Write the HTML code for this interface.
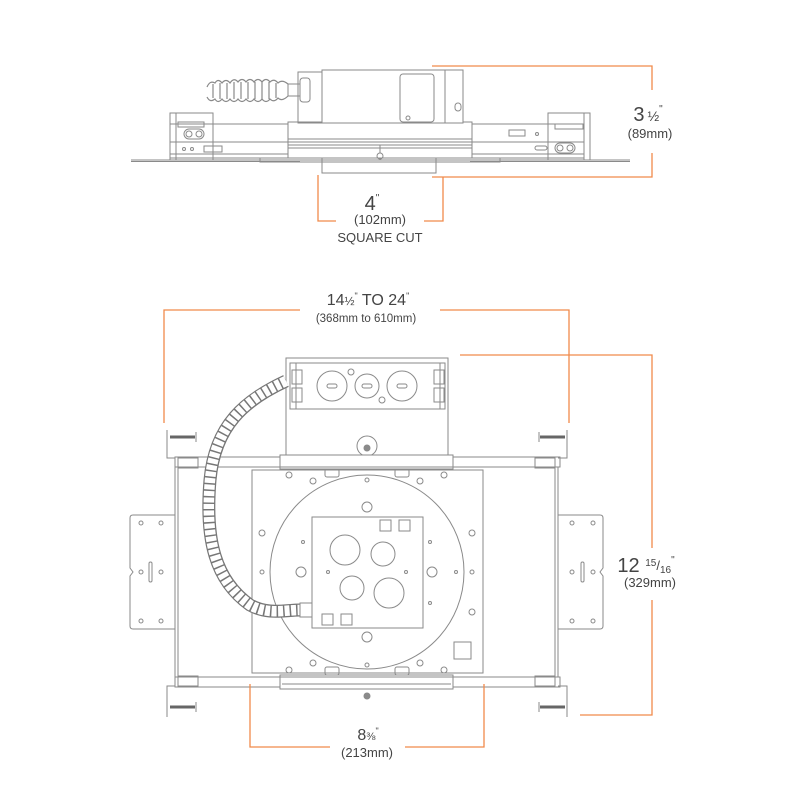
<!DOCTYPE html>
<html><head><meta charset="utf-8"><style>
html,body{margin:0;padding:0;background:#fff;}
svg{display:block;}
text{font-family:"Liberation Sans",sans-serif;fill:#444;}
</style></head><body>
<svg width="800" height="800" viewBox="0 0 800 800" xmlns="http://www.w3.org/2000/svg">
<g fill="none" stroke="#8a8a8a" stroke-width="1">
<line x1="131" y1="160" x2="630" y2="160"/>
<line x1="131" y1="161.5" x2="300" y2="161.5"/>
<line x1="470" y1="161.5" x2="630" y2="161.5"/>
<rect x="170" y="124" width="414" height="34"/>
<line x1="170" y1="142" x2="584" y2="142"/>
<line x1="170" y1="154" x2="584" y2="154"/>
<rect x="288" y="122" width="184" height="36" fill="#fff"/>
<line x1="288" y1="139" x2="472" y2="139"/>
<line x1="288" y1="142" x2="472" y2="142"/>
<line x1="288" y1="145" x2="472" y2="145"/>
<line x1="288" y1="148" x2="472" y2="148"/>
<rect x="260" y="158" width="240" height="4"/>
<rect x="322" y="158" width="114" height="15"/>
<rect x="322" y="70" width="141" height="53" fill="#fff"/>
<rect x="298" y="72" width="24" height="51"/>
<rect x="400" y="74" width="34" height="48" rx="3"/>
<line x1="445" y1="70" x2="445" y2="123"/>
<circle cx="408" cy="118" r="2"/>
<rect x="455" y="103" width="6" height="8" rx="3"/>
<circle cx="380" cy="156" r="3"/>
<line x1="380" y1="145" x2="380" y2="153"/>
<g stroke-width="1.2">
<path d="M207 87 Q210 80 215 83 Q218 78 222 83 Q226 78 230 83 Q234 77 238 82 Q242 77 246 82 Q250 77 254 82 Q258 77 262 82 Q266 77 270 82 Q274 78 278 83 Q282 79 288 84"/>
<path d="M207 97 Q210 103 215 99 Q218 104 222 99 Q226 104 230 99 Q234 104 238 99 Q242 104 246 99 Q250 104 254 99 Q258 104 262 99 Q266 104 270 99 Q274 103 278 98 Q282 102 288 96"/>
<path d="M213 84 L213 98 M220 83 L220 99 M227 83 L227 99 M234 82 L234 99 M241 82 L241 99 M248 82 L248 99 M255 82 L255 99 M262 82 L262 99 M269 82 L269 99 M276 83 L276 98"/>
</g>
<rect x="288" y="84" width="12" height="12"/>
<rect x="300" y="78" width="10" height="24" rx="3"/>
<rect x="170" y="113" width="43" height="47"/>
<line x1="176" y1="113" x2="176" y2="160"/>
<rect x="178" y="122" width="26" height="5"/>
<rect x="184" y="129" width="20" height="10" rx="5"/>
<circle cx="189" cy="134" r="3"/><circle cx="199" cy="134" r="3"/>
<circle cx="184" cy="149" r="1.5"/><circle cx="192" cy="149" r="1.5"/>
<rect x="204" y="146" width="18" height="6"/>
<rect x="548" y="113" width="42" height="47"/>
<line x1="584" y1="113" x2="584" y2="160"/>
<rect x="555" y="124" width="28" height="5"/>
<rect x="555" y="143" width="20" height="10" rx="5"/>
<circle cx="560" cy="148" r="3"/><circle cx="570" cy="148" r="3"/>
<rect x="509" y="130" width="16" height="6"/>
<circle cx="537" cy="134" r="1.5"/>
<rect x="535" y="146" width="12" height="4" rx="2"/>

<rect x="286" y="358" width="162" height="100"/>
<rect x="290" y="363" width="155" height="46"/>
<line x1="296" y1="363" x2="296" y2="409"/>
<line x1="440" y1="363" x2="440" y2="409"/>
<rect x="292" y="370" width="10" height="14"/><rect x="292" y="388" width="10" height="14"/>
<rect x="434" y="370" width="10" height="14"/><rect x="434" y="388" width="10" height="14"/>
<circle cx="332" cy="386" r="15"/><rect x="327" y="384" width="10" height="4" rx="2"/>
<circle cx="367" cy="386" r="12"/><rect x="362" y="384" width="10" height="4" rx="2"/>
<circle cx="402" cy="386" r="15"/><rect x="397" y="384" width="10" height="4" rx="2"/>
<circle cx="351" cy="372" r="3"/><circle cx="382" cy="400" r="3"/>
<circle cx="367" cy="446" r="10"/><circle cx="367" cy="448" r="3" fill="#8a8a8a"/>
<rect x="175" y="457" width="385" height="10"/>
<rect x="280" y="455" width="173" height="14" fill="#fff"/>
<rect x="175" y="677" width="385" height="10"/>
<rect x="280" y="675" width="173" height="14" fill="#fff"/>
<line x1="282" y1="684" x2="451" y2="684"/>
<circle cx="367" cy="696" r="3" fill="#8a8a8a"/>
<rect x="175" y="467" width="383" height="210"/>
<line x1="178" y1="467" x2="178" y2="677"/>
<line x1="555" y1="467" x2="555" y2="677"/>
<rect x="252" y="470" width="231" height="203"/>
<path d="M175 515 L133 515 Q130 515 130 518 L130 568 L133 572 L130 576 L130 626 Q130 629 133 629 L175 629"/>
<path d="M558 515 L600 515 Q603 515 603 518 L603 568 L600 572 L603 576 L603 626 Q603 629 600 629 L558 629"/>
<circle cx="141" cy="523" r="2"/><circle cx="161" cy="523" r="2"/>
<circle cx="141" cy="572" r="2"/><circle cx="161" cy="572" r="2"/>
<circle cx="141" cy="621" r="2"/><circle cx="161" cy="621" r="2"/>
<rect x="149" y="562" width="3" height="20" rx="1.5"/>
<circle cx="572" cy="523" r="2"/><circle cx="593" cy="523" r="2"/>
<circle cx="572" cy="572" r="2"/><circle cx="593" cy="572" r="2"/>
<circle cx="572" cy="621" r="2"/><circle cx="593" cy="621" r="2"/>
<rect x="581" y="562" width="3" height="20" rx="1.5"/>
<path d="M167 430 L167 458 L175 458"/><path d="M567 430 L567 458 L558 458"/>
<path d="M167 717 L167 686 L175 686"/><path d="M567 717 L567 686 L558 686"/>
<g stroke="#666" stroke-width="3"><line x1="170" y1="437" x2="195" y2="437"/><line x1="540" y1="437" x2="565" y2="437"/>
<line x1="170" y1="707" x2="195" y2="707"/><line x1="540" y1="707" x2="565" y2="707"/></g>
<line x1="196" y1="432" x2="196" y2="442"/><line x1="539" y1="432" x2="539" y2="442"/>
<line x1="196" y1="702" x2="196" y2="712"/><line x1="539" y1="702" x2="539" y2="712"/>
<rect x="178" y="458" width="20" height="10"/><rect x="535" y="458" width="20" height="10"/>
<rect x="178" y="676" width="20" height="10"/><rect x="535" y="676" width="20" height="10"/>
<rect x="325" y="469" width="14" height="8" rx="2"/><rect x="395" y="469" width="14" height="8" rx="2"/>
<rect x="325" y="667" width="14" height="8" rx="2"/><rect x="395" y="667" width="14" height="8" rx="2"/>
<circle cx="289" cy="475" r="3"/><circle cx="444" cy="475" r="3"/>
<circle cx="313" cy="481" r="3"/><circle cx="420" cy="481" r="3"/>
<circle cx="289" cy="670" r="3"/><circle cx="444" cy="670" r="3"/>
<circle cx="313" cy="663" r="3"/><circle cx="420" cy="663" r="3"/>
<circle cx="262" cy="533" r="3"/><circle cx="472" cy="533" r="3"/>
<circle cx="262" cy="572" r="2"/><circle cx="472" cy="572" r="2"/>
<circle cx="472" cy="612" r="3"/>
<rect x="454" y="642" width="17" height="17"/>
<circle cx="367" cy="572" r="97"/>
<circle cx="367" cy="480" r="2"/><circle cx="367" cy="665" r="2"/>
<circle cx="367" cy="507" r="5"/><circle cx="367" cy="637" r="5"/>
<circle cx="301" cy="572" r="5"/><circle cx="432" cy="572" r="5"/>
<circle cx="303" cy="542" r="1.5"/><circle cx="430" cy="542" r="1.5"/>
<circle cx="456" cy="572" r="1.5"/><circle cx="430" cy="603" r="1.5"/>
<rect x="312" y="517" width="111" height="111"/>
<circle cx="345" cy="550" r="15"/><circle cx="383" cy="554" r="12"/>
<circle cx="352" cy="588" r="12"/><circle cx="389" cy="593" r="15"/>
<circle cx="328" cy="572" r="1.5"/><circle cx="406" cy="572" r="1.5"/>
<rect x="380" y="520" width="11" height="11"/><rect x="399" y="520" width="11" height="11"/>
<rect x="322" y="614" width="11" height="11"/><rect x="341" y="614" width="11" height="11"/>
<path d="M286 381 C245 400 215 425 210 480 C205 540 215 580 250 605 C268 615 285 610 300 610" stroke="#777" stroke-width="13" stroke-linecap="butt"/>
<path d="M286 381 C245 400 215 425 210 480 C205 540 215 580 250 605 C268 615 285 610 300 610" stroke="#fff" stroke-width="10.5" stroke-dasharray="5 1.5"/>
<rect x="300" y="603" width="12" height="14"/>
</g>
<g fill="none" stroke="#f08a4b" stroke-width="1.3">
<path d="M432 66 L652 66 L652 90"/><path d="M652 153 L652 177 L432 177"/>
<path d="M318 175 L318 221 L336 221"/><path d="M443 177 L443 221 L424 221"/>
<path d="M164 423 L164 310 L300 310"/><path d="M569 423 L569 310 L440 310"/>
<path d="M460 355 L652 355 L652 548"/><path d="M652 600 L652 715 L580 715"/>
<path d="M250 684 L250 747 L330 747"/><path d="M484 684 L484 747 L405 747"/>
</g>
<g text-anchor="middle">
<text x="648" y="121" font-size="20">3<tspan font-size="14" dx="3">½</tspan><tspan font-size="10" dy="-9">"</tspan></text>
<text x="650" y="138" font-size="13">(89mm)</text>
<text x="372" y="210" font-size="20">4<tspan font-size="10" dy="-9">"</tspan></text>
<text x="380" y="224" font-size="13">(102mm)</text>
<text x="380" y="242" font-size="13">SQUARE CUT</text>
<text x="368" y="305" font-size="16">14<tspan font-size="12">½</tspan><tspan font-size="9" dy="-6">"</tspan><tspan dy="6"> TO 24</tspan><tspan font-size="9" dy="-6">"</tspan></text>
<text x="366" y="322" font-size="11.5">(368mm to 610mm)</text>
<text x="646" y="572" font-size="20">12 <tspan font-size="10" dy="-6">15</tspan><tspan font-size="13" dy="4">/</tspan><tspan font-size="10" dy="3">16</tspan><tspan font-size="10" dy="-10">"</tspan></text>
<text x="650" y="587" font-size="13">(329mm)</text>
<text x="368" y="740" font-size="16">8<tspan font-size="11">⅜</tspan><tspan font-size="9" dy="-6">"</tspan></text>
<text x="367" y="757" font-size="13">(213mm)</text>
</g>
</svg>
</body></html>
